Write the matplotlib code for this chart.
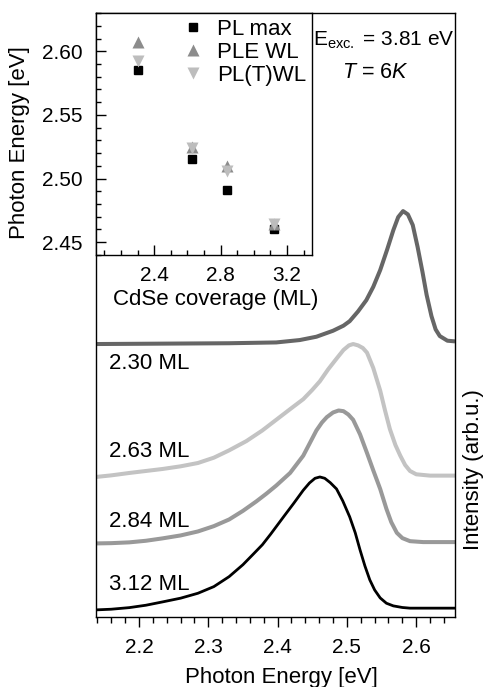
import matplotlib.pyplot as plt
from matplotlib.ticker import MultipleLocator, FormatStrFormatter

plt.rcParams['font.family'] = ['Liberation Sans', 'DejaVu Sans']
plt.rcParams['mathtext.fontset'] = 'custom'
plt.rcParams['mathtext.rm'] = 'Liberation Sans'
plt.rcParams['mathtext.it'] = 'Liberation Sans:italic'

# PL spectra, normalised so the peak is 1
e_230 = [2.138, 2.234, 2.330, 2.398, 2.432, 2.456, 2.480, 2.495, 2.504, 2.516,
         2.528, 2.538, 2.548, 2.558, 2.567, 2.574, 2.581, 2.588, 2.595, 2.602,
         2.609, 2.615, 2.622, 2.628, 2.634, 2.645, 2.656]
i_230 = [0.0, 0.003, 0.006, 0.012, 0.03, 0.055, 0.100, 0.138, 0.172, 0.245,
         0.33, 0.43, 0.556, 0.71, 0.857, 0.955, 1.0, 0.975, 0.895, 0.73,
         0.543, 0.37, 0.21, 0.11, 0.06, 0.025, 0.02]

e_263 = [2.138, 2.160, 2.186, 2.210, 2.234, 2.260, 2.285, 2.308, 2.330, 2.355,
         2.378, 2.398, 2.418, 2.437, 2.450, 2.461, 2.473, 2.485, 2.495, 2.503,
         2.509, 2.516, 2.523, 2.529, 2.538, 2.548, 2.555, 2.562, 2.570, 2.577,
         2.584, 2.591, 2.600, 2.620, 2.656]
i_263 = [0.0, 0.012, 0.03, 0.045, 0.06, 0.08, 0.105, 0.145, 0.20, 0.27,
         0.35, 0.43, 0.51, 0.585, 0.655, 0.72, 0.81, 0.89, 0.955, 0.99,
         1.0, 0.99, 0.97, 0.935, 0.82, 0.65, 0.50, 0.36, 0.24, 0.16,
         0.09, 0.045, 0.02, 0.01, 0.01]

e_284 = [2.138, 2.160, 2.186, 2.210, 2.234, 2.260, 2.285, 2.308, 2.330, 2.350,
         2.369, 2.384, 2.398, 2.418, 2.437, 2.447, 2.456, 2.464, 2.471, 2.480,
         2.488, 2.495, 2.502, 2.509, 2.519, 2.529, 2.538, 2.548, 2.557, 2.564,
         2.572, 2.580, 2.591, 2.610, 2.656]
i_284 = [0.0, 0.002, 0.008, 0.02, 0.038, 0.06, 0.09, 0.13, 0.18, 0.245,
         0.315, 0.375, 0.435, 0.53, 0.66, 0.76, 0.85, 0.91, 0.95, 0.985,
         1.0, 0.995, 0.97, 0.93, 0.82, 0.68, 0.55, 0.41, 0.26, 0.16,
         0.08, 0.04, 0.017, 0.01, 0.01]

e_312 = [2.138, 2.160, 2.186, 2.210, 2.234, 2.260, 2.285, 2.308, 2.330, 2.350,
         2.365, 2.378, 2.390, 2.398, 2.410, 2.423, 2.437, 2.446, 2.454, 2.461,
         2.468, 2.476, 2.485, 2.494, 2.504, 2.512, 2.519, 2.526, 2.533, 2.540,
         2.548, 2.557, 2.567, 2.580, 2.591, 2.656]
i_312 = [0.0, 0.005, 0.017, 0.035, 0.06, 0.088, 0.125, 0.175, 0.25, 0.34,
         0.42, 0.49, 0.57, 0.626, 0.71, 0.80, 0.90, 0.955, 0.99, 1.0,
         0.99, 0.957, 0.91, 0.82, 0.70, 0.58, 0.45, 0.33, 0.226, 0.15,
         0.09, 0.05, 0.03, 0.018, 0.013, 0.013]

spec_labels = ['2.30 ML', '2.63 ML', '2.84 ML', '3.12 ML']

# inset: peak positions vs coverage
coverage = [2.30, 2.63, 2.84, 3.12]
pl_max = [2.585, 2.515, 2.491, 2.460]
ple_wl = [2.607, 2.525, 2.510, 2.464]
plt_wl = [2.592, 2.524, 2.506, 2.464]

fs = 16
tfs = 15

fig = plt.figure(figsize=(4.83, 6.87), dpi=100)
ax = fig.add_axes([0.1988, 0.102, 0.7433, 0.879])

spectra = [(e_230, i_230, 2.0, '#666666', 2.9),
           (e_263, i_263, 1.0, '#c3c3c3', 2.9),
           (e_284, i_284, 0.5, '#999999', 2.9),
           (e_312, i_312, 0.0, 'black', 2.0)]
for (e, i, off, c, lw) in spectra:
    ax.plot(e, [v + off for v in i], color=c, lw=lw, solid_joinstyle='round',
            solid_capstyle='butt')

for lab, yy in zip(spec_labels, [1.857, 1.19, 0.664, 0.188]):
    ax.text(2.157, yy, lab, fontsize=fs, va='center', ha='left')

ax.set_xlim(2.138, 2.656)
ax.set_ylim(-0.053, 4.49)
ax.xaxis.set_major_locator(MultipleLocator(0.1))
ax.xaxis.set_minor_locator(MultipleLocator(0.02))
ax.xaxis.set_major_formatter(FormatStrFormatter('%.1f'))
ax.tick_params(axis='x', which='major', direction='out', length=7.5, width=1,
               labelsize=tfs, pad=8)
ax.tick_params(axis='x', which='minor', direction='out', length=4, width=1)
ax.set_yticks([])
for s in ax.spines.values():
    s.set_linewidth(1.0)

fig.text(281 / 483, 1 - 677 / 687, 'Photon Energy [eV]', fontsize=fs,
         ha='center', va='center')
fig.text(473 / 483, 1 - 470 / 687, 'Intensity (arb.u.)', fontsize=fs,
         ha='center', va='center', rotation=90)

ax.text(384 / 483, 1 - 40 / 687, r'E$_{\mathrm{exc.}}$ = 3.81 eV', fontsize=15,
        ha='center', va='center', transform=fig.transFigure)
ax.text(375 / 483, 1 - 73 / 687, r'$T$ = 6$K$', fontsize=15.5,
        ha='center', va='center', transform=fig.transFigure)

# inset
ax_in = fig.add_axes([0.1988, 0.629, 0.447, 0.352])
ax_in.plot(coverage, pl_max, 's', color='black', ms=6, label='PL max')
ax_in.plot(coverage, ple_wl, '^', color='#8c8c8c', ms=8, mec='none', label='PLE WL')
ax_in.plot(coverage, plt_wl, 'v', color='#bdbdbd', ms=8, mec='none', label='PL(T)WL')
ax_in.set_xlim(2.05, 3.35)
ax_in.set_ylim(2.44, 2.63)
ax_in.xaxis.set_major_locator(MultipleLocator(0.4))
ax_in.xaxis.set_minor_locator(MultipleLocator(0.1))
ax_in.yaxis.set_major_locator(MultipleLocator(0.05))
ax_in.yaxis.set_minor_locator(MultipleLocator(0.01))
ax_in.xaxis.set_major_formatter(FormatStrFormatter('%.1f'))
ax_in.yaxis.set_major_formatter(FormatStrFormatter('%.2f'))
ax_in.tick_params(which='major', direction='in', length=7, width=1, labelsize=tfs)
ax_in.tick_params(which='minor', direction='in', length=3.5, width=1)
ax_in.tick_params(axis='x', which='major', pad=8)
ax_in.tick_params(axis='y', which='major', pad=10)
for s in ax_in.spines.values():
    s.set_linewidth(1.0)

ax_in.legend(loc='upper right', bbox_to_anchor=(1.0, 1.0), frameon=False,
             fontsize=fs, handlelength=1.0, handletextpad=0.6, labelspacing=0.1,
             borderaxespad=0.1, borderpad=0.15)

fig.text(216 / 483, 1 - 300 / 687, 'CdSe coverage (ML)', fontsize=fs,
         ha='center', va='center')
fig.text(20 / 483, 1 - 142.5 / 687, 'Photon Energy [eV]', fontsize=fs,
         ha='center', va='center', rotation=90)

fig.savefig('out.png', dpi=100)
